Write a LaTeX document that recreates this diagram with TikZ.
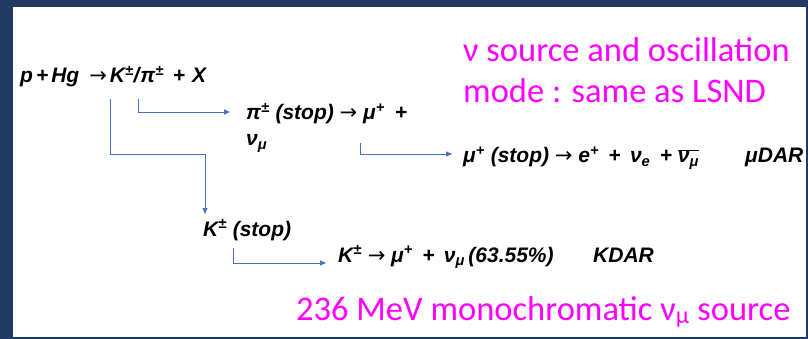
\documentclass[tikz,border=0pt]{standalone}
\usepackage{fontspec}
\setmainfont{Liberation Sans}
\newfontfamily\calibrifont{Carlito}
\newfontfamily\arrowfont{DejaVu Sans}
\usetikzlibrary{arrows.meta}
\definecolor{navy}{HTML}{1F3864}
\definecolor{lineblue}{HTML}{4472C4}
\definecolor{mag}{HTML}{FF00FF}
\tikzset{
  eq/.style={anchor=base west, inner sep=0pt, font=\fontsize{21}{25}\selectfont\bfseries\itshape},
  note/.style={anchor=base west, inner sep=0pt, text=mag, font=\fontsize{34.5}{40}\selectfont\calibrifont},
  conn/.style={draw=lineblue, line width=0.8pt, -{Triangle[length=6pt,width=5pt]}}
}
\newcommand{\Sup}[1]{\textsuperscript{#1}}
\newcommand{\Sub}[1]{\textsubscript{#1}}
\newcommand{\Arr}{{\arrowfont\mdseries\upshape →}}
\begin{document}
\begin{tikzpicture}[x=1pt,y=-1pt]
\useasboundingbox (0,0) rectangle (808,339);
\fill[navy] (0,0) rectangle (808,339);
\fill[white] (13,7) rectangle (806,337);

\node[note] (n1) at (463,62) {ν source and oscillation};
\node[note] (n2) at (463,103) {mode : same as LSND};
\node[note] (n3) at (296,320) {236 MeV monochromatic ν\Sub{μ} source};

\node[eq] (l1) at (20,83) {p\kern3pt+\kern3ptHg\hspace{10pt}\Arr\kern3pt K\Sup{±}/\kern1ptπ\Sup{±}\hspace{9pt}+\hspace{7pt}X};
\node[eq] (pi1) at (246,120) {π\Sup{±} (stop) \Arr{} μ\Sup{+}\hspace{10pt}+};
\node[eq] (pi2) at (246,146) {ν\Sub{μ}};
\node[eq] (mu) at (463,163) {μ\Sup{+} (stop) \Arr{} e\Sup{+} \,+ \,ν\Sub{e} \,+ $\overline{\hbox{ν\Sub{μ}}}$};
\node[eq] (mudar) at (745,163) {μDAR};
\node[eq] (kstop) at (203,236) {K\Sup{±} (stop)};
\node[eq] (kdec) at (338,262) {K\Sup{±} \Arr{} μ\Sup{+} \,+ \,ν\Sub{μ}\,(63.55\%)};
\node[eq] (kdar) at (593,262) {KDAR};

\coordinate (a0) at (138,99);
\coordinate (a1) at (230,112);
\coordinate (b0) at (110,99);
\coordinate (b1) at (205,154);
\coordinate (b2) at (205,214);
\coordinate (c0) at (360,143);
\coordinate (c1) at (452,154);
\coordinate (d0) at (233,248);
\coordinate (d1) at (326,263);

\draw[conn] (a0) |- (a1);
\draw[conn] (b0) |- (b1) -- (b2);
\draw[conn] (c0) |- (c1);
\draw[conn] (d0) |- (d1);
\end{tikzpicture}
\end{document}
